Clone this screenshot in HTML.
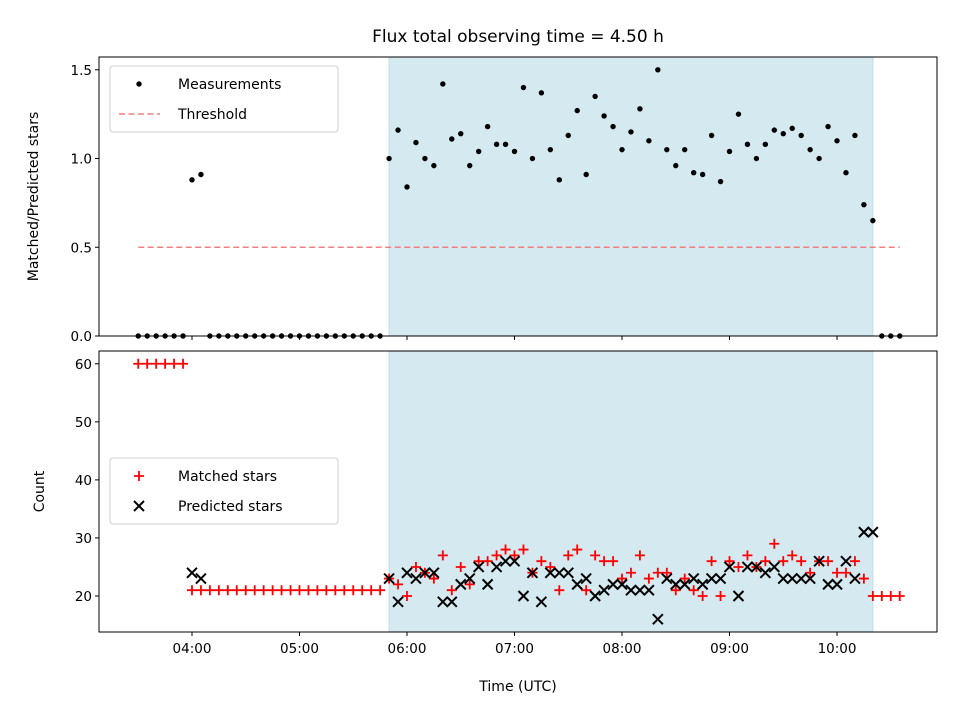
<!DOCTYPE html>
<html><head><meta charset="utf-8"><style>
html,body{margin:0;padding:0;background:#fff;}
svg{display:block;font-family:"DejaVu Sans","Liberation Sans",sans-serif;}
</style></head><body>
<svg id="chart" width="960" height="720" viewBox="0 0 960 720" xmlns="http://www.w3.org/2000/svg">
<text x="518" y="42" text-anchor="middle" font-size="17">Flux total observing time = 4.50 h</text>
<g id="topPanel"></g><g id="botPanel"></g>
</svg>
<script>
// Data: sample index i -> time = 03:30 + 5 min * i
const startMinutes = 210;
const stepMinutes = 5;
const ratioValues = [0,0,0,0,0,0,0.88,0.91,0,0,0,0,0,0,0,0,0,0,0,0,0,0,0,0,0,0,0,0,
 1.00,1.16,0.84,1.09,1.00,0.96,1.42,1.11,1.14,0.96,1.04,1.18,1.08,1.08,1.04,1.40,1.00,1.37,1.05,0.88,1.13,1.27,0.91,1.35,1.24,1.18,1.05,1.15,1.28,1.10,1.50,1.05,0.96,1.05,0.92,0.91,1.13,0.87,1.04,1.25,1.08,1.00,1.08,1.16,1.14,1.17,1.13,1.05,1.00,1.18,1.10,0.92,1.13,0.74,0.65,0,0,0];
const matchedValues = [60,60,60,60,60,60,21,21,21,21,21,21,21,21,21,21,21,21,21,21,21,21,21,21,21,21,21,21,
 23,22,20,25,24,23,27,21,25,22,26,26,27,28,27,28,24,26,25,21,27,28,21,27,26,26,23,24,27,23,24,24,21,23,21,20,26,20,26,25,27,25,26,29,26,27,26,24,26,26,24,24,26,23,20,20,20,20];
const predictedValues = [null,null,null,null,null,null,24,23,null,null,null,null,null,null,null,null,null,null,null,null,null,null,null,null,null,null,null,null,
 23,19,24,23,24,24,19,19,22,23,25,22,25,26,26,20,24,19,24,24,24,22,23,20,21,22,22,21,21,21,16,23,22,22,23,22,23,23,25,20,25,25,24,25,23,23,23,23,26,22,22,26,23,31,31,null,null,null];
const threshold = 0.5;
const shadeStartIdx = 28, shadeEndIdx = 82;
const topTicks = [0.0,0.5,1.0,1.5];
const botTicks = [20,30,40,50,60];
const xTickMinutes = [240,300,360,420,480,540,600];
const xTickLabels = ["04:00","05:00","06:00","07:00","08:00","09:00","10:00"];

const NS="http://www.w3.org/2000/svg";
const L=99,R=937;
const xMin=188.1,xMax=655.8;
const X=m=>L+(m-xMin)/(xMax-xMin)*(R-L);
const tT=57,tB=336, yT=v=>tB-(v-0)/(1.572)*(tB-tT);
const bT=351,bB=632, yB=v=>bB-(v-13.8)/(62.2-13.8)*(bB-bT);
const tm=i=>startMinutes+stepMinutes*i;
function mk(p,tag,a,txt){const e=document.createElementNS(NS,tag);for(const k in a)e.setAttribute(k,a[k]);if(txt!=null)e.textContent=txt;p.appendChild(e);return e;}
const topG=document.getElementById('topPanel'),botG=document.getElementById('botPanel');

function panel(g,y0,y1,yf,ticks,fmt,ylabel,nm){
  const sh=mk(g,'rect',{x:X(tm(shadeStartIdx)),y:y0,width:X(tm(shadeEndIdx))-X(tm(shadeStartIdx)),height:y1-y0,fill:'#d4e9f0',stroke:'#bfdde6','stroke-width':1});
  
  
  ticks.forEach(v=>{const y=yf(v);mk(g,'line',{x1:L-4,x2:L,y1:y,y2:y,stroke:'#000'});
    const t=mk(g,'text',{x:L-7,y:y+5,'text-anchor':'end','font-size':13.5},fmt(v));
    
    });
  xTickMinutes.forEach(m=>{const x=X(m);mk(g,'line',{x1:x,x2:x,y1:y1,y2:y1+4,stroke:'#000'});});
  const yl=mk(g,'text',{transform:`translate(${nm==='top'?38:44},${(y0+y1)/2}) rotate(-90)`,'text-anchor':'middle','font-size':14},ylabel);
  
  
}
panel(topG,tT,tB,yT,topTicks,v=>v.toFixed(1),'Matched/Predicted stars','top');
panel(botG,bT,bB,yB,botTicks,v=>String(v),'Count','bot');

const th=mk(topG,'line',{x1:X(tm(0)),x2:X(tm(ratioValues.length-1)),y1:yT(threshold),y2:yT(threshold),stroke:'#f08080','stroke-width':1.6,'stroke-dasharray':'6,3.5'});


ratioValues.forEach((v,i)=>{const c=mk(topG,'circle',{cx:X(tm(i)),cy:yT(v),r:2.7,fill:'#000'});
  
  });
matchedValues.forEach((v,i)=>{const x=X(tm(i)),y=yB(v);const p=mk(botG,'path',{d:`M${x-5},${y}H${x+5}M${x},${y-5}V${y+5}`,stroke:'#f00','stroke-width':1.8});
  
  });
predictedValues.forEach((v,i)=>{if(v==null)return;const x=X(tm(i)),y=yB(v);const p=mk(botG,'path',{d:`M${x-5},${y-5}L${x+5},${y+5}M${x-5},${y+5}L${x+5},${y-5}`,stroke:'#000','stroke-width':2});
  
  });

[[topG,tT,tB],[botG,bT,bB]].forEach(([g,a,b])=>{const f=mk(g,'rect',{x:L,y:a,width:R-L,height:b-a,fill:'none',stroke:'#000','stroke-width':1});
  
  });
xTickLabels.forEach((s,k)=>{const t=mk(botG,'text',{x:X(xTickMinutes[k]),y:bB+21,'text-anchor':'middle','font-size':13.5},s);
  
  });
const xl=mk(botG,'text',{x:518,y:691,'text-anchor':'middle','font-size':14},'Time (UTC)');



function legend(g,y,items,nm){
  const b=mk(g,'rect',{x:110,y:y,width:228,height:66,rx:3,fill:'#fff','fill-opacity':0.85,stroke:'#d0d0d0'});
  
  
  items.forEach((it,k)=>{const cy=y+18+k*30;it.draw(cy);
    const t=mk(g,'text',{x:178,y:cy+5,'font-size':14},it.label);
    
    });
}
legend(topG,66,[{label:'Measurements',draw:cy=>mk(topG,'circle',{cx:139,cy:cy,r:2.7,fill:'#000'})},
 {label:'Threshold',draw:cy=>mk(topG,'line',{x1:119,x2:160,y1:cy,y2:cy,stroke:'#f08080','stroke-width':1.6,'stroke-dasharray':'6,3.5'})}],'top-legend');
legend(botG,458,[{label:'Matched stars',draw:cy=>mk(botG,'path',{d:`M134,${cy}H144M139,${cy-5}V${cy+5}`,stroke:'#f00','stroke-width':1.8})},
 {label:'Predicted stars',draw:cy=>mk(botG,'path',{d:`M134,${cy-5}L144,${cy+5}M134,${cy+5}L144,${cy-5}`,stroke:'#000','stroke-width':2})}],'bottom-legend');
</script>
</body></html>
